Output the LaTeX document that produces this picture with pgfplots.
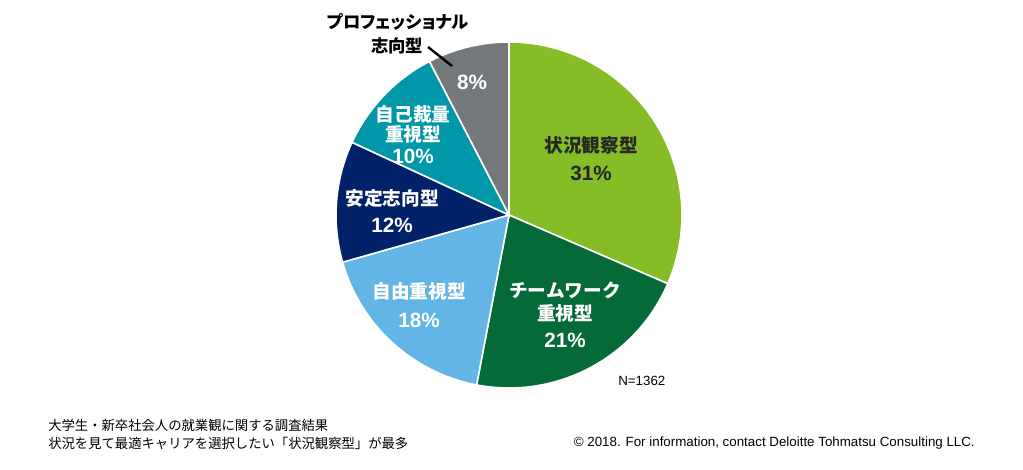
\documentclass[border=0pt]{standalone}
\usepackage{pgfplots}
\pgfplotsset{compat=1.18}
\usepackage{fontspec}
\setmainfont{Liberation Sans}
\newfontfamily\jp{Noto Sans CJK JP}
\newfontfamily\jpp{Noto Sans CJK JP}[RawFeature=+palt]
\definecolor{cA}{HTML}{86BC25}
\definecolor{cB}{HTML}{046A38}
\definecolor{cC}{HTML}{62B5E5}
\definecolor{cD}{HTML}{012169}
\definecolor{cE}{HTML}{0097A9}
\definecolor{cF}{HTML}{75787B}
\begin{document}
\begin{tikzpicture}
\begin{axis}[scale only axis, width=767.25pt, height=352.5pt,
  xmin=0, xmax=1023, ymin=0, ymax=470, hide axis, clip=false]
\path (axis cs:0,0) rectangle (axis cs:1023,470);
% slice shares (as drawn): 31.5, 21.5, 17.6, 11.3, 10.5, 7.6 -- cumulative 0,31.5,53,70.6,81.9,92.4,100
\def\R{129.75pt}
\fill[cA, draw=white, line width=1.2pt] (axis cs:509,255) -- ++(90:\R) arc[start angle=90, delta angle=-3.6*31.5, radius=\R] -- cycle;
\fill[cB, draw=white, line width=1.2pt] (axis cs:509,255) -- ++(90-3.6*31.5:\R) arc[start angle=90-3.6*31.5, delta angle=-3.6*21.5, radius=\R] -- cycle;
\fill[cC, draw=white, line width=1.2pt] (axis cs:509,255) -- ++(90-3.6*53:\R) arc[start angle=90-3.6*53, delta angle=-3.6*17.6, radius=\R] -- cycle;
\fill[cD, draw=white, line width=1.2pt] (axis cs:509,255) -- ++(90-3.6*70.6:\R) arc[start angle=90-3.6*70.6, delta angle=-3.6*11.3, radius=\R] -- cycle;
\fill[cE, draw=white, line width=1.2pt] (axis cs:509,255) -- ++(90-3.6*81.9:\R) arc[start angle=90-3.6*81.9, delta angle=-3.6*10.5, radius=\R] -- cycle;
\fill[cF, draw=white, line width=1.2pt] (axis cs:509,255) -- ++(90-3.6*92.4:\R) arc[start angle=90-3.6*92.4, delta angle=-3.6*7.6, radius=\R] -- cycle;
% labels
\tikzset{lab/.style={text=white, font=\fontsize{14}{16}\selectfont\bfseries, align=center, inner sep=0pt},
  pct/.style={text=white, font=\fontsize{15.5}{18}\selectfont\bfseries, inner sep=0pt}}
\node[lab, text=black!85] at (axis cs:591,325) {\jp 状況観察型};
\node[pct, text=black!85] at (axis cs:591,297) {31\%};
\node[lab] at (axis cs:565,180) {\jp チームワーク};
\node[lab] at (axis cs:565,157) {\jp 重視型};
\node[pct] at (axis cs:565,130) {21\%};
\node[lab] at (axis cs:419,179) {\jp 自由重視型};
\node[pct] at (axis cs:419,150) {18\%};
\node[lab] at (axis cs:392,272) {\jp 安定志向型};
\node[pct] at (axis cs:392,245) {12\%};
\node[lab] at (axis cs:413,356) {\jp 自己裁量};
\node[lab] at (axis cs:413,336) {\jp 重視型};
\node[pct] at (axis cs:413,314) {10\%};
\node[pct] at (axis cs:472,388) {8\%};
\node[text=black, font=\fontsize{13}{16}\selectfont\bfseries, inner sep=0pt] at (axis cs:398,448) {\jpp プロフェッショナル};
\node[text=black, font=\fontsize{13}{16}\selectfont\bfseries, inner sep=0pt] at (axis cs:397,424) {\jpp 志向型};
\draw[black, line width=1.8pt] (axis cs:428,423) -- (axis cs:452,404);
\node[anchor=west, inner sep=0pt, font=\fontsize{10}{12}\selectfont] at (axis cs:618,89) {N=1362};
\node[anchor=west, inner sep=0pt, font=\fontsize{10}{12}\selectfont] at (axis cs:48,45) {\jp 大学生・新卒社会人の就業観に関する調査結果};
\node[anchor=west, inner sep=0pt, font=\fontsize{10}{12}\selectfont] at (axis cs:48,27) {\jp 状況を見て最適キャリアを選択したい「状況観察型」が最多};
\node[anchor=east, inner sep=0pt, font=\fontsize{10}{12}\selectfont] at (axis cs:975,27) {© 2018. For information, contact Deloitte Tohmatsu Consulting LLC.};
\end{axis}
\end{tikzpicture}
\end{document}
